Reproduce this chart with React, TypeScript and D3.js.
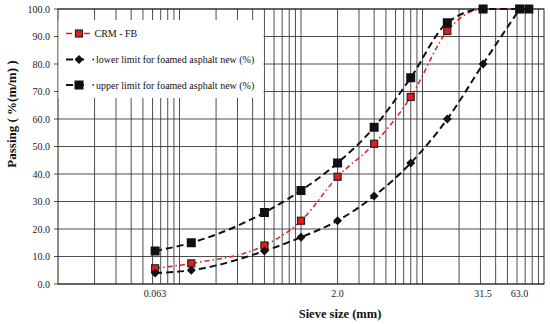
import React from 'react';
import * as d3 from 'd3';

const sizes = [0.063, 0.125, 0.5, 1, 2, 4, 8, 16, 31.5, 63];
const crm = [5.7, 7.5, 14, 23, 39, 51, 68, 92, 100, 100];
const lower = [4, 5, 12, 17, 23, 32, 44, 60, 80, 100];
const upperSizes = [0.063, 0.125, 0.5, 1, 2, 4, 8, 16, 31.5, 63, 75];
const upper = [12, 15, 26, 34, 44, 57, 75, 95, 100, 100, 100];

const xTickLabels = [
  { v: 0.063, t: '0.063' },
  { v: 2, t: '2.0' },
  { v: 31.5, t: '31.5' },
  { v: 63, t: '63.0' },
];
const yTicks = [0, 10, 20, 30, 40, 50, 60, 70, 80, 90, 100];

const W = 550;
const H = 324;
const left = 58;
const right = 544;
const top = 9;
const bottom = 284;
const font = "'Times New Roman', 'Liberation Serif', 'DejaVu Serif', serif";

const App: React.FC = () => {
  const x = d3.scaleLog().domain([0.01, 100]).range([left, right]);
  const y = d3.scaleLinear().domain([0, 100]).range([bottom, top]);

  // vertical log grid lines
  const vGrid: number[] = [];
  for (let e = -2; e < 2; e++) {
    for (let k = 1; k <= 9; k++) {
      const v = k * Math.pow(10, e);
      if (v > 0.0100001 && v < 99.999) vGrid.push(v);
    }
  }

  const line = d3
    .line<[number, number]>()
    .x((d) => x(d[0]))
    .y((d) => y(d[1]))
    .curve(d3.curveMonotoneX);

  const crmPts = sizes.map((s, i) => [s, crm[i]] as [number, number]);
  const lowPts = sizes.map((s, i) => [s, lower[i]] as [number, number]);
  const upPts = upperSizes.map((s, i) => [s, upper[i]] as [number, number]);

  const diamond = (cx: number, cy: number, r: number) =>
    `M${cx},${cy - r}L${cx + r},${cy}L${cx},${cy + r}L${cx - r},${cy}Z`;

  const legendRows = [
    { label: 'CRM - FB', kind: 'crm', yy: 33.5 },
    { label: 'lower limit for foamed asphalt new (%)', kind: 'low', yy: 59.5 },
    { label: 'upper limit for foamed asphalt new (%)', kind: 'up', yy: 85 },
  ];

  return (
    <svg
      width={W}
      height={H}
      style={{ position: 'absolute', left: 0, top: 0, background: '#fff', fontFamily: font }}
    >
      <rect x={0} y={0} width={W} height={H} fill="#fff" />

      {/* grid */}
      {yTicks.map((t) => (
        <line key={'h' + t} x1={left - 4} x2={right} y1={y(t)} y2={y(t)} stroke="#3a3a3a" strokeWidth={0.9} />
      ))}
      {vGrid.map((v) => (
        <line key={'v' + v} x1={x(v)} x2={x(v)} y1={top} y2={bottom} stroke="#3a3a3a" strokeWidth={0.9} />
      ))}
      <rect x={left} y={top} width={right - left} height={bottom - top} fill="none" stroke="#222" strokeWidth={1} />

      {/* legend background */}
      <rect x={left + 0.5} y={20} width={205} height={78} fill="#fff" />

      {/* y ticks */}
      {yTicks.map((t) => (
        <text key={'yl' + t} x={50} y={y(t)} dy="0.35em" textAnchor="end" fontSize={10} fill="#222">
          {t.toFixed(1)}
        </text>
      ))}
      {/* x ticks */}
      {xTickLabels.map((d) => (
        <text key={'xl' + d.t} x={x(d.v)} y={297} textAnchor="middle" fontSize={10} fill="#222">
          {d.t}
        </text>
      ))}

      <text x={340} y={318} textAnchor="middle" fontSize={12.5} fontWeight="bold" fill="#111">
        Sieve size (mm)
      </text>
      <text
        transform="translate(16,114) rotate(-90)"
        textAnchor="middle"
        fontSize={13}
        fontWeight="bold"
        fill="#111"
      >
        Passing ( %(m/m) )
      </text>

      {/* series */}
      <path d={line(crmPts) || ''} fill="none" stroke="#e8191c" strokeWidth={1.5} strokeDasharray="5,3,1.5,3" />
      <path d={line(lowPts) || ''} fill="none" stroke="#111" strokeWidth={2} strokeDasharray="7,4" />
      <path d={line(upPts) || ''} fill="none" stroke="#111" strokeWidth={2} strokeDasharray="7,4" />

      {crmPts.map((d, i) => (
        <rect key={'c' + i} x={x(d[0]) - 3.5} y={y(d[1]) - 3.5} width={7} height={7} fill="#e8191c" stroke="#222" strokeWidth={1.2} />
      ))}
      {lowPts.map((d, i) => (
        <path key={'l' + i} d={diamond(x(d[0]), y(d[1]), 4.5)} fill="#111" />
      ))}
      {upPts.map((d, i) => (
        <rect key={'u' + i} x={x(d[0]) - 4.5} y={y(d[1]) - 4.5} width={9} height={9} fill="#111" />
      ))}

      {/* legend */}
      {legendRows.map((r) => (
        <g key={r.kind}>
          {r.kind === 'crm' ? (
            <>
              <line x1={66} x2={92} y1={r.yy} y2={r.yy} stroke="#e8191c" strokeWidth={1.6} strokeDasharray="6,3" />
              <rect x={75.5} y={r.yy - 3.5} width={7} height={7} fill="#e8191c" stroke="#222" strokeWidth={1.2} />
            </>
          ) : (
            <>
              <line x1={66} x2={94} y1={r.yy} y2={r.yy} stroke="#111" strokeWidth={2} strokeDasharray="7,4,7,10" />
              {r.kind === 'low' ? (
                <path d={diamond(79, r.yy, 4.5)} fill="#111" />
              ) : (
                <rect x={74.5} y={r.yy - 4.5} width={9} height={9} fill="#111" />
              )}
              <line x1={92.5} x2={94} y1={r.yy} y2={r.yy} stroke="#111" strokeWidth={1.5} />
            </>
          )}
          <text x={r.kind === 'crm' ? 94.5 : 96} y={r.yy} dy="0.35em" fontSize={10} fill="#111">
            {r.label}
          </text>
        </g>
      ))}
    </svg>
  );
};

export default App;
